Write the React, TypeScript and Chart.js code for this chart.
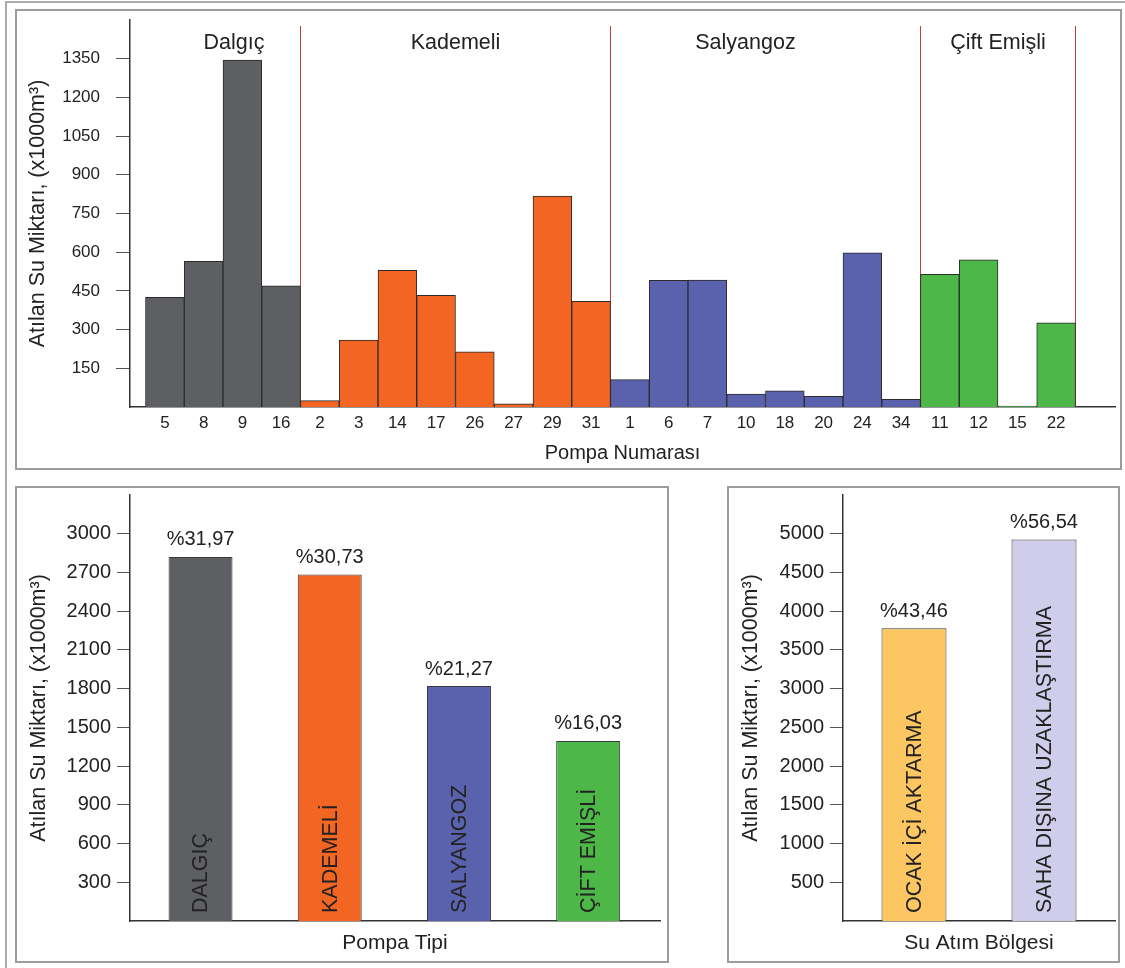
import React, { useEffect, useRef } from 'react';
import { Chart, registerables } from 'chart.js';

Chart.register(...registerables);

const FONT = '"Liberation Sans", Arial, Helvetica, sans-serif';
const INK = '#222222';
const AXIS = '#333333';

// ---- Top chart data (Pompa Numarası) ----
const PUMP_IDS = ['5', '8', '9', '16', '2', '3', '14', '17', '26', '27', '29', '31', '1', '6', '7', '10', '18', '20', '24', '34', '11', '12', '15', '22'];
const PUMP_VOLUMES = [425, 565, 1345, 470, 25, 259, 530, 433, 214, 12, 818, 410, 106, 491, 492, 50, 63, 41, 598, 30, 514, 570, 4, 326];
const GROUP_NAMES = ['Dalgıç', 'Kademeli', 'Salyangoz', 'Çift Emişli'];
const GROUP_SIZES = [4, 8, 8, 4];
const GROUP_COLORS = ['#5d5f62', '#f26522', '#5b62ad', '#4db848'];
const TOP_Y_TICKS = [150, 300, 450, 600, 750, 900, 1050, 1200, 1350];

// ---- Bottom-left data (Pompa Tipi) ----
const TYPE_NAMES = ['DALGIÇ', 'KADEMELİ', 'SALYANGOZ', 'ÇİFT EMİŞLİ'];
const TYPE_VOLUMES = [2820, 2685, 1820, 1395];
const TYPE_SHARES = ['%31,97', '%30,73', '%21,27', '%16,03'];
const TYPE_Y_TICKS = [300, 600, 900, 1200, 1500, 1800, 2100, 2400, 2700, 3000];

// ---- Bottom-right data (Su Atım Bölgesi) ----
const ZONE_NAMES = ['OCAK İÇİ AKTARMA', 'SAHA DIŞINA UZAKLAŞTIRMA'];
const ZONE_VOLUMES = [3780, 4925];
const ZONE_SHARES = ['%43,46', '%56,54'];
const ZONE_COLORS = ['#fcc762', '#cfcdea'];
const ZONE_Y_TICKS = [500, 1000, 1500, 2000, 2500, 3000, 3500, 4000, 4500, 5000];

const Y_TITLE = 'Atılan Su Miktarı, (x1000m³)';

// styling-only constants
const GROUP_LABEL_SHIFT = [11, 0, -20, 0];

const BAR_COLORS: string[] = [];
GROUP_SIZES.forEach((n, g) => {
  for (let i = 0; i < n; i++) BAR_COLORS.push(GROUP_COLORS[g]);
});

const groupPlugin = {
  id: 'groups',
  beforeDatasetsDraw(chart: any) {
    const x = chart.scales.x;
    const area = chart.chartArea;
    const ctx = chart.ctx;
    let start = 0;
    GROUP_SIZES.forEach((n, g) => {
      const end = start + n;
      const sx = Math.round(x.getPixelForValue(end - 0.5)) + 0.5;
      ctx.save();
      ctx.strokeStyle = '#b5463f';
      ctx.lineWidth = 1;
      ctx.beginPath();
      ctx.moveTo(sx, area.top + 6);
      ctx.lineTo(sx, area.bottom);
      ctx.stroke();
      const cx = x.getPixelForValue((start + end - 1) / 2) + GROUP_LABEL_SHIFT[g];
      ctx.font = `21.5px ${FONT}`;
      ctx.fillStyle = INK;
      ctx.textAlign = 'center';
      ctx.textBaseline = 'middle';
      ctx.fillText(GROUP_NAMES[g], cx, area.top + 23);
      ctx.restore();
      start = end;
    });
  },
};

function makeBarTextPlugin(names: string[], shares: string[]) {
  return {
    id: 'barText',
    afterDatasetsDraw(chart: any) {
      const ctx = chart.ctx;
      const meta = chart.getDatasetMeta(0);
      meta.data.forEach((el: any, i: number) => {
        const { x, y, base } = el.getProps(['x', 'y', 'base'], true);
        ctx.save();
        ctx.fillStyle = INK;
        ctx.font = `20px ${FONT}`;
        ctx.textAlign = 'center';
        ctx.textBaseline = 'middle';
        ctx.fillText(shares[i], x, y - 17);
        ctx.translate(x, base - 8);
        ctx.rotate(-Math.PI / 2);
        ctx.textAlign = 'left';
        ctx.font = `21.5px ${FONT}`;
        ctx.fillText(names[i], 0, 1);
        ctx.restore();
      });
    },
  };
}

function topConfig(): any {
  return {
    type: 'bar',
    data: {
      datasets: [
        {
          data: PUMP_VOLUMES.map((v, i) => ({ x: i, y: v })),
          backgroundColor: BAR_COLORS,
          borderColor: '#2b2b2b',
          borderWidth: 1,
          barPercentage: 1,
          categoryPercentage: 1,
        },
      ],
    },
    options: {
      responsive: false,
      animation: false,
      events: [],
      layout: { padding: { left: 0, top: 30, right: 6, bottom: 0 } },
      plugins: { legend: { display: false }, tooltip: { enabled: false } },
      scales: {
        x: {
          type: 'linear',
          offset: false,
          min: -0.9,
          max: 24.52,
          grid: { display: false, drawTicks: false, offset: false },
          border: { display: true, color: AXIS, width: 1.5 },
          afterBuildTicks: (s: any) => {
            s.ticks = PUMP_IDS.map((_, i) => ({ value: i }));
          },
          ticks: {
            autoSkip: false,
            maxRotation: 0,
            padding: 6,
            color: INK,
            font: { family: FONT, size: 17 },
            callback: (v: any) => PUMP_IDS[v] ?? '',
          },
          title: {
            display: true,
            text: 'Pompa Numarası',
            color: INK,
            font: { family: FONT, size: 20 },
            padding: { top: 0, bottom: 4 },
          },
          afterFit: (s: any) => {
            s.height = 62;
          },
        },
        y: {
          min: 0,
          max: 1500,
          grid: { display: true, drawOnChartArea: false, drawTicks: true, tickLength: 14, color: '#555' },
          border: { display: true, color: AXIS, width: 1.5 },
          afterBuildTicks: (s: any) => {
            s.ticks = TOP_Y_TICKS.map((v) => ({ value: v }));
          },
          ticks: {
            padding: 16,
            color: INK,
            font: { family: FONT, size: 17 },
            callback: (v: any) => String(v),
          },
          title: {
            display: true,
            text: Y_TITLE,
            color: INK,
            font: { family: FONT, size: 21.5 },
            padding: { top: 9, bottom: 0 },
          },
          afterFit: (s: any) => {
            s.width = 114;
          },
        },
      },
    },
    plugins: [groupPlugin],
  };
}

function bottomConfig(p: {
  names: string[];
  values: number[];
  colors: string[];
  shares: string[];
  ticks: number[];
  max: number;
  xMin: number;
  xMax: number;
  xTitle: string;
  yWidth: number;
  padRight: number;
  barPct: number;
}): any {
  return {
    type: 'bar',
    data: {
      datasets: [
        {
          data: p.values.map((v, i) => ({ x: i, y: v })),
          backgroundColor: p.colors,
          borderColor: '#3a3a3a',
          borderWidth: 1,
          barPercentage: p.barPct,
          categoryPercentage: 1,
        },
      ],
    },
    options: {
      responsive: false,
      animation: false,
      events: [],
      layout: { padding: { left: 0, top: 25, right: p.padRight, bottom: 0 } },
      plugins: { legend: { display: false }, tooltip: { enabled: false } },
      scales: {
        x: {
          type: 'linear',
          offset: false,
          min: p.xMin,
          max: p.xMax,
          afterBuildTicks: (s: any) => {
            s.ticks = p.names.map((_, i) => ({ value: i }));
          },
          grid: { display: false, drawTicks: false, offset: false },
          border: { display: true, color: AXIS, width: 1.5 },
          ticks: { display: false },
          title: {
            display: true,
            text: p.xTitle,
            color: INK,
            font: { family: FONT, size: 21 },
            padding: { top: 0, bottom: 6 },
          },
          afterFit: (s: any) => {
            s.height = 41;
          },
        },
        y: {
          min: 0,
          max: p.max,
          grid: { display: true, drawOnChartArea: false, drawTicks: true, tickLength: 13, color: '#555' },
          border: { display: true, color: AXIS, width: 1.5 },
          afterBuildTicks: (s: any) => {
            s.ticks = p.ticks.map((v) => ({ value: v }));
          },
          ticks: {
            padding: 6,
            color: INK,
            font: { family: FONT, size: 20 },
            callback: (v: any) => String(v),
          },
          title: {
            display: true,
            text: Y_TITLE,
            color: INK,
            font: { family: FONT, size: 21.5 },
            padding: { top: 10, bottom: 0 },
          },
          afterFit: (s: any) => {
            s.width = p.yWidth;
          },
        },
      },
    },
    plugins: [makeBarTextPlugin(p.names, p.shares)],
  };
}

function ChartBox(props: { left: number; top: number; width: number; height: number; make: () => any }) {
  const ref = useRef<HTMLCanvasElement>(null);
  useEffect(() => {
    if (!ref.current) return;
    const chart = new Chart(ref.current, props.make());
    return () => chart.destroy();
  }, []);
  return (
    <canvas
      ref={ref}
      width={props.width}
      height={props.height}
      style={{ position: 'absolute', left: props.left, top: props.top, width: props.width, height: props.height }}
    />
  );
}

const panel = (left: number, top: number, width: number, height: number): React.CSSProperties => ({
  position: 'absolute',
  left,
  top,
  width,
  height,
  boxSizing: 'border-box',
  border: '2px solid #9c9c9c',
});

export default function App() {
  return (
    <div
      style={{
        position: 'absolute',
        left: 0,
        top: 0,
        width: 1125,
        height: 968,
        overflow: 'hidden',
        background: '#ffffff',
      }}
    >
      <div
        style={{
          position: 'absolute',
          left: 5,
          top: 1,
          width: 1130,
          height: 980,
          borderLeft: '2px solid #ababab',
          borderTop: '2px solid #ababab',
        }}
      />
      <div style={panel(15, 9, 1107, 461)} />
      <div style={panel(15, 486, 654, 477)} />
      <div style={panel(727, 486, 393, 477)} />
      <ChartBox left={16} top={-10} width={1105} height={479} make={topConfig} />
      <ChartBox
        left={16}
        top={470}
        width={652}
        height={492}
        make={() =>
          bottomConfig({
            names: TYPE_NAMES,
            values: TYPE_VOLUMES,
            colors: GROUP_COLORS,
            shares: TYPE_SHARES,
            ticks: TYPE_Y_TICKS,
            max: 3300,
            xMin: -0.546,
            xMax: 3.556,
            xTitle: 'Pompa Tipi',
            yWidth: 114,
            padRight: 8,
            barPct: 0.495,
          })
        }
      />
      <ChartBox
        left={728}
        top={470}
        width={391}
        height={492}
        make={() =>
          bottomConfig({
            names: ZONE_NAMES,
            values: ZONE_VOLUMES,
            colors: ZONE_COLORS,
            shares: ZONE_SHARES,
            ticks: ZONE_Y_TICKS,
            max: 5500,
            xMin: -0.546,
            xMax: 1.546,
            xTitle: 'Su Atım Bölgesi',
            yWidth: 115,
            padRight: 4,
            barPct: 0.5,
          })
        }
      />
    </div>
  );
}
